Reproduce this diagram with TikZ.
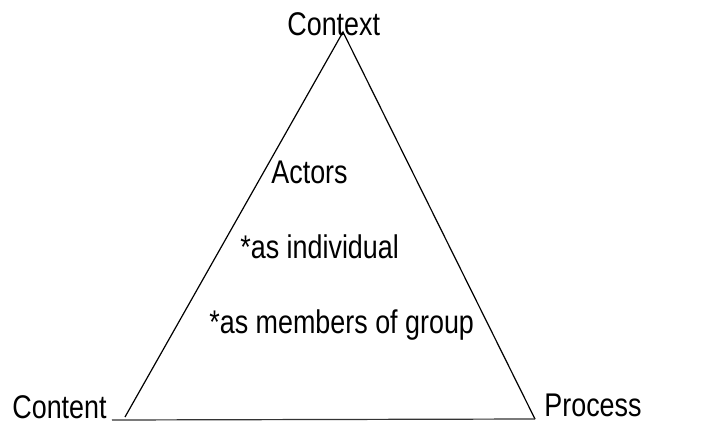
\documentclass[tikz,border=0pt]{standalone}
\usepackage{fontspec}
\setmainfont[FakeStretch=0.82]{Liberation Sans}
\begin{document}
\begin{tikzpicture} [
                x=0.5pt, y=-0.5pt,
                word/.style={inner sep=0pt, anchor=base west, font=\fontsize{16.4}{19}\selectfont},
                side/.style = {line width=0.6pt},
                base side/.style = {side, draw=black!80},
            ]
            \useasboundingbox (0,0) rectangle (720,424);
            \coordinate (apex) at (343,32);
            \coordinate (lft) at (125,417);
            \coordinate (rgt) at (535,419);
            \coordinate (base) at (112,420);
            \draw[side] (lft) -- (apex) -- (rgt);
            \draw[base side] (base) -- (rgt);
            \foreach \pos/\name/\txt in {
                    {(287,35)/context/Context}, {(12,418)/content/Content},
                    {(544,416)/process/Process}, {(271,183)/actors/Actors},
                    {(240,258)/individual/*as individual},
                    {(209,333)/group/*as members of group}}
                \node[word] (\name) at \pos {\txt};
        \end{tikzpicture}
\end{document}
